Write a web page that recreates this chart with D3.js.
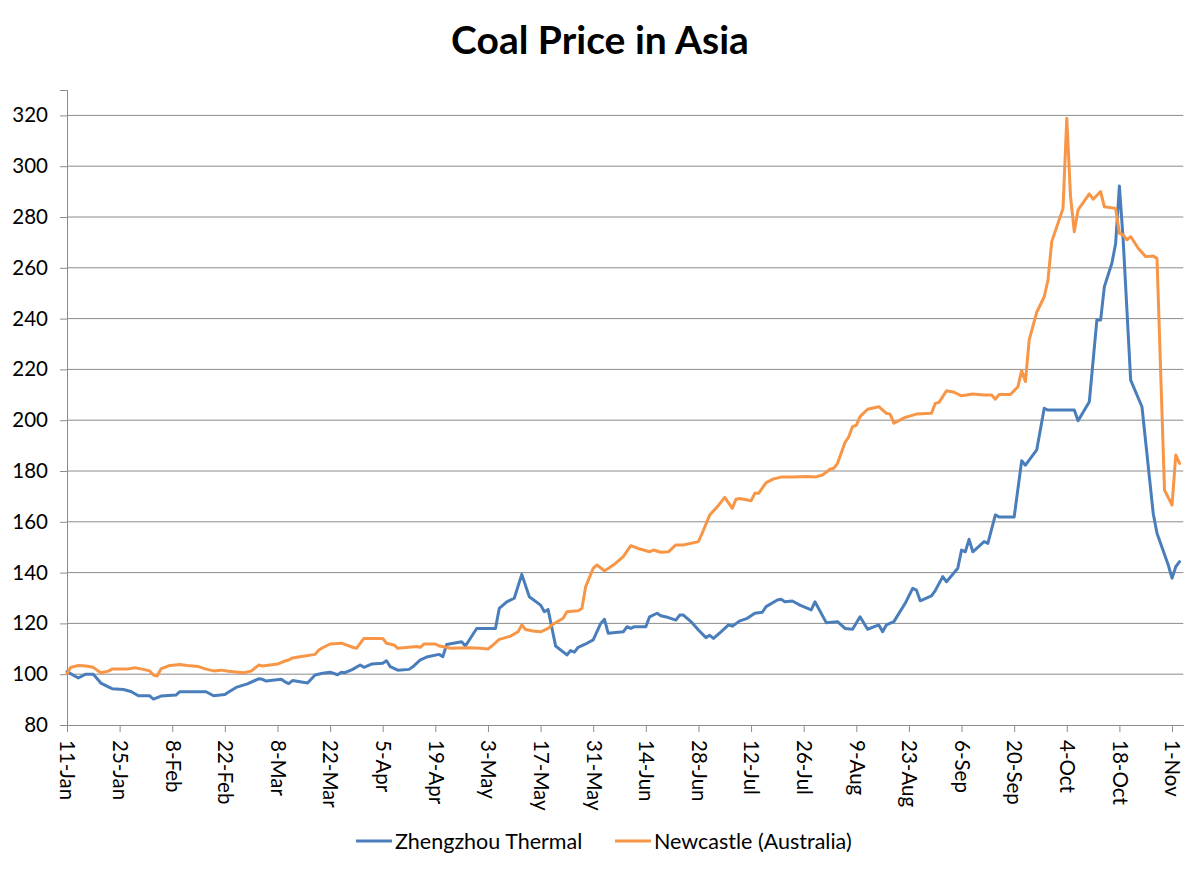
<!DOCTYPE html>
<html>
<head>
<meta charset="utf-8">
<script src="https://cdn.jsdelivr.net/npm/d3@7"></script>
<style>
  html, body { margin: 0; padding: 0; background: #fff; }
  svg { display: block; }
  text { font-family: Lato, "Open Sans", sans-serif; fill: #000; }
</style>
</head>
<body>
<svg id="chart" width="1200" height="871"></svg>
<script>
// ---------- data (2021) ----------
const title = "Coal Price in Asia";
const seriesNames = ["Zhengzhou Thermal", "Newcastle (Australia)"];
const seriesColors = ["#4A7EBB", "#F79646"];

const yTicks = [80, 100, 120, 140, 160, 180, 200, 220, 240, 260, 280, 300, 320];
const xTickLabels = ["11-Jan","25-Jan","8-Feb","22-Feb","8-Mar","22-Mar","5-Apr","19-Apr","3-May","17-May","31-May","14-Jun","28-Jun","12-Jul","26-Jul","9-Aug","23-Aug","6-Sep","20-Sep","4-Oct","18-Oct","1-Nov"];

const zhengzhouDates = ["11-Jan","14-Jan","16-Jan","18-Jan","20-Jan","22-Jan","23-Jan","26-Jan","28-Jan","30-Jan","2-Feb","3-Feb","5-Feb","9-Feb","10-Feb","17-Feb","19-Feb","22-Feb","23-Feb","25-Feb","28-Feb","3-Mar","4-Mar","5-Mar","9-Mar","10-Mar","11-Mar","12-Mar","16-Mar","18-Mar","20-Mar","22-Mar","24-Mar","25-Mar","26-Mar","28-Mar","30-Mar","31-Mar","2-Apr","5-Apr","6-Apr","7-Apr","9-Apr","12-Apr","13-Apr","15-Apr","17-Apr","20-Apr","21-Apr","22-Apr","26-Apr","27-Apr","30-Apr","5-May","6-May","8-May","10-May","12-May","14-May","17-May","18-May","19-May","21-May","24-May","25-May","26-May","27-May","29-May","31-May","2-Jun","3-Jun","4-Jun","8-Jun","9-Jun","10-Jun","11-Jun","14-Jun","15-Jun","17-Jun","18-Jun","20-Jun","22-Jun","23-Jun","24-Jun","26-Jun","28-Jun","30-Jun","1-Jul","2-Jul","4-Jul","6-Jul","7-Jul","9-Jul","11-Jul","13-Jul","15-Jul","16-Jul","19-Jul","20-Jul","21-Jul","23-Jul","25-Jul","28-Jul","29-Jul","1-Aug","4-Aug","6-Aug","8-Aug","10-Aug","12-Aug","15-Aug","16-Aug","17-Aug","19-Aug","22-Aug","24-Aug","25-Aug","26-Aug","29-Aug","30-Aug","1-Sep","2-Sep","5-Sep","6-Sep","7-Sep","8-Sep","9-Sep","12-Sep","13-Sep","15-Sep","16-Sep","20-Sep","22-Sep","23-Sep","26-Sep","28-Sep","29-Sep","6-Oct","7-Oct","10-Oct","12-Oct","13-Oct","14-Oct","16-Oct","17-Oct","18-Oct","19-Oct","21-Oct","24-Oct","27-Oct","28-Oct","31-Oct","1-Nov","2-Nov","3-Nov"];
const zhengzhouValues = [101,98.5,100,100,96.5,95,94.3,94,93.2,91.5,91.5,90.2,91.4,91.8,93.1,93.1,91.5,92,93,94.8,96.2,98.2,98,97.3,98,97,96.3,97.5,96.5,99.7,100.4,100.8,99.8,100.8,100.6,101.9,103.6,102.7,104,104.3,105.3,103,101.6,101.9,102.9,105.6,106.9,107.8,106.9,111.7,112.8,111.1,118,118,125.9,128.5,129.9,139.3,130.5,127.2,124.6,125.5,111.1,107.6,109.3,108.7,110.6,111.9,113.5,120,121.6,116.1,116.7,118.7,118,118.7,118.7,122.6,124,123,122.3,121.3,123.3,123.3,120.7,117.4,114.4,115.3,114.1,116.7,119.4,118.9,121,122,124,124.4,126.6,129.2,129.5,128.5,128.8,127.2,125.3,128.5,120.3,120.7,118,117.7,122.6,117.7,119.4,116.7,119.4,120.7,127.9,133.8,133.1,128.9,130.8,132.9,138.4,136.4,141.7,148.9,148.2,153.1,148.2,152.2,151.5,162.7,161.9,161.9,184,182.3,188.3,204.7,204,204,199.8,207.3,239.4,239.4,252.6,261.8,269.6,292.2,271,215.8,205.3,163.3,155.5,143,137.8,142.3,144.3];

const newcastleDates = ["11-Jan","12-Jan","14-Jan","16-Jan","18-Jan","19-Jan","20-Jan","22-Jan","23-Jan","27-Jan","29-Jan","31-Jan","2-Feb","3-Feb","4-Feb","5-Feb","7-Feb","10-Feb","12-Feb","15-Feb","17-Feb","19-Feb","21-Feb","23-Feb","25-Feb","27-Feb","1-Mar","3-Mar","4-Mar","5-Mar","8-Mar","10-Mar","11-Mar","12-Mar","14-Mar","18-Mar","19-Mar","20-Mar","22-Mar","25-Mar","28-Mar","29-Mar","31-Mar","5-Apr","6-Apr","8-Apr","9-Apr","12-Apr","14-Apr","15-Apr","16-Apr","19-Apr","20-Apr","22-Apr","23-Apr","28-Apr","1-May","3-May","4-May","6-May","7-May","9-May","11-May","12-May","13-May","15-May","17-May","19-May","20-May","23-May","24-May","27-May","28-May","29-May","31-May","1-Jun","3-Jun","4-Jun","6-Jun","8-Jun","10-Jun","12-Jun","15-Jun","16-Jun","18-Jun","20-Jun","22-Jun","24-Jun","28-Jun","29-Jun","1-Jul","3-Jul","5-Jul","7-Jul","8-Jul","9-Jul","12-Jul","13-Jul","14-Jul","16-Jul","18-Jul","20-Jul","23-Jul","27-Jul","29-Jul","31-Jul","2-Aug","3-Aug","4-Aug","6-Aug","7-Aug","8-Aug","9-Aug","10-Aug","12-Aug","15-Aug","17-Aug","18-Aug","19-Aug","22-Aug","25-Aug","29-Aug","30-Aug","31-Aug","2-Sep","4-Sep","6-Sep","9-Sep","12-Sep","14-Sep","15-Sep","16-Sep","19-Sep","21-Sep","22-Sep","23-Sep","24-Sep","26-Sep","28-Sep","29-Sep","30-Sep","3-Oct","4-Oct","5-Oct","6-Oct","7-Oct","10-Oct","11-Oct","13-Oct","14-Oct","17-Oct","18-Oct","19-Oct","20-Oct","21-Oct","23-Oct","25-Oct","27-Oct","28-Oct","30-Oct","1-Nov","2-Nov","3-Nov"];
const newcastleValues = [100.3,102.7,103.4,103.2,102.7,101.6,100.6,101.2,102,102,102.5,102,101.3,99.7,99.3,102.1,103.3,103.8,103.4,103,102,101.3,101.6,101.2,100.9,100.6,101.2,103.6,103.2,103.4,104,105.2,105.6,106.4,106.9,107.8,109.5,110.4,111.9,112.2,110.6,110.2,114.1,114.1,112.2,111.5,110.2,110.6,110.9,110.6,111.9,111.9,111.1,110.6,110.2,110.4,110.2,109.9,111.1,113.7,114.1,115,116.7,119.4,117.6,117,116.7,118,119.4,122,124.6,125,125.9,134.5,141.7,143,140.7,141.6,143.7,146.3,150.6,149.5,148.2,148.9,148,148.2,150.9,150.9,152.2,155.5,162.7,165.9,169.6,165.3,168.9,169.2,168.3,171.2,171.2,175.4,176.9,177.6,177.6,177.8,177.6,178.4,180.7,181.1,183,191.2,193.5,197.5,198,201.4,204.3,205.3,202.7,202.4,198.8,201.1,202.4,202.7,206.6,207,211.6,211,209.6,210.3,209.9,209.9,208.3,210.1,210.1,213.2,219.5,215.2,231.6,242.5,248.6,255.2,270.3,283.4,318.9,288,274.2,282.8,289.1,287,290,284,283.4,273.6,273,271,272.3,267.7,264.4,264.6,263.7,172.5,166.6,186.3,183];

const xStart = "11-Jan";
const xEnd = "4-Nov";
const yDomain = [80, 330];

// ---------- chart ----------
const parse = d3.timeParse("%d-%b-%Y");
const toDate = s => parse(s + "-2021");

const svg = d3.select("#chart");
const plot = { left: 67, right: 1183.3, top: 90, bottom: 725 };

const x = d3.scaleTime().domain([toDate(xStart), toDate(xEnd)]).range([plot.left, plot.right]);
const y = d3.scaleLinear().domain(yDomain).range([plot.bottom, plot.top]);

// title
svg.append("text")
  .attr("x", 600).attr("y", 54)
  .attr("text-anchor", "middle")
  .style("font-size", "39px").style("font-weight", "bold")
  .text(title);

// gridlines
svg.append("g").selectAll("line").data(yTicks.filter(t => t > yDomain[0]))
  .join("line")
  .attr("x1", plot.left).attr("x2", plot.right)
  .attr("y1", d => y(d)).attr("y2", d => y(d))
  .attr("stroke", "#8c8c8c").attr("stroke-width", 1);

// y axis
const yAxis = d3.axisLeft(y).tickValues(yTicks).tickSize(7).tickPadding(12).tickFormat(d3.format("d"));
const gy = svg.append("g").attr("transform", `translate(${plot.left},0)`).call(yAxis);
gy.select(".domain").attr("stroke", "#8c8c8c");
gy.selectAll(".tick line").attr("stroke", "#8c8c8c");
gy.selectAll(".tick text").style("font-size", "20.5px").style("font-family", "Lato, sans-serif").attr("fill", "#000");

// x axis
const xTickDates = xTickLabels.map(toDate);
const xAxis = d3.axisBottom(x).tickValues(xTickDates).tickSize(7).tickSizeOuter(0).tickFormat(d3.timeFormat("%-d-%b"));
const gx = svg.append("g").attr("transform", `translate(0,${plot.bottom})`).call(xAxis);
gx.select(".domain").attr("stroke", "#8c8c8c");
gx.selectAll(".tick line").attr("stroke", "#8c8c8c");
gx.selectAll(".tick text")
  .style("font-size", "20.5px").style("font-family", "Lato, sans-serif").attr("fill", "#000")
  .attr("text-anchor", "start")
  .attr("dy", "0.35em")
  .attr("transform", "rotate(90)")
  .attr("x", 15).attr("y", 0);

// lines
const line = d3.line().x(d => x(d.date)).y(d => y(d.value));
const series = [
  { name: seriesNames[0], color: seriesColors[0], data: zhengzhouDates.map((s, i) => ({ date: toDate(s), value: zhengzhouValues[i] })) },
  { name: seriesNames[1], color: seriesColors[1], data: newcastleDates.map((s, i) => ({ date: toDate(s), value: newcastleValues[i] })) }
];
svg.append("g").selectAll("path").data(series).join("path")
  .attr("d", d => line(d.data))
  .attr("fill", "none")
  .attr("stroke", d => d.color)
  .attr("stroke-width", 3)
  .attr("stroke-linejoin", "round")
  .attr("stroke-linecap", "round");

// legend
const legendItems = [
  { name: seriesNames[0], color: seriesColors[0], x: 356 },
  { name: seriesNames[1], color: seriesColors[1], x: 615 }
];
const lg = svg.append("g").selectAll("g").data(legendItems).join("g")
  .attr("transform", d => `translate(${d.x},841)`);
lg.append("line").attr("x1", 0).attr("x2", 36).attr("y1", 0).attr("y2", 0)
  .attr("stroke", d => d.color).attr("stroke-width", 3);
lg.append("text").attr("x", 39).attr("y", 0).attr("dy", "0.35em")
  .style("font-size", "21.5px")
  .text(d => d.name);
</script>
</body>
</html>
